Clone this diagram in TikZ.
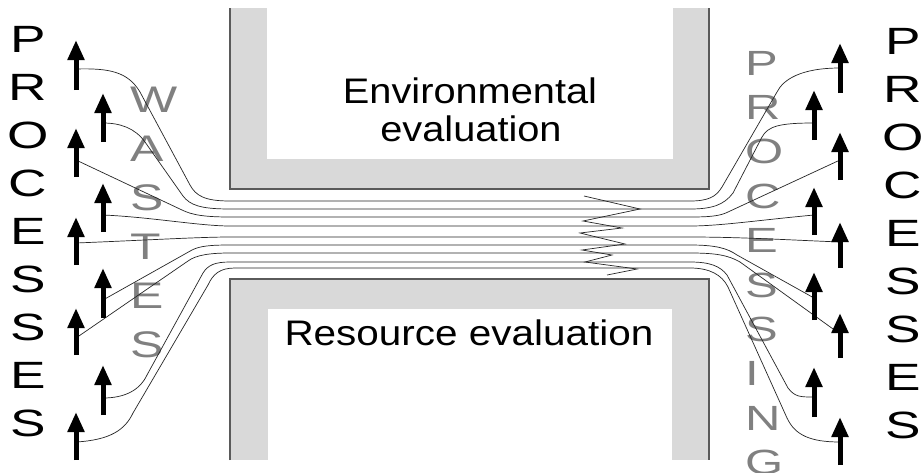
\documentclass[tikz,border=0pt]{standalone}
\usepackage{fontspec}
\setmainfont{Liberation Sans}
\usetikzlibrary{arrows.meta}
\definecolor{wallgray}{HTML}{D9D9D9}
\definecolor{walledge}{HTML}{5A5A5A}
\definecolor{lettergray}{HTML}{808080}
\newcommand{\widen}[2]{\scalebox{#1}[1]{#2}}

\begin{document}
\begin{tikzpicture}[x=1pt,y=-1pt,
  flow/.style={line width=0.7pt, draw=black!85},
  uparrow/.style={line width=5pt, -{Triangle[width=16pt,length=20pt]}},
  sideletter/.style={font=\fontsize{38}{40}\selectfont, text=black, inner sep=0pt, anchor=base},
  grayletter/.style={font=\fontsize{37}{40}\selectfont, text=lettergray, inner sep=0pt, anchor=base west},
  grayletterb/.style={font=\fontsize{35}{38}\selectfont, text=lettergray, inner sep=0pt, anchor=base west},
  walltext/.style={font=\fontsize{35.5}{40}\selectfont, text=black, inner sep=0pt, anchor=base},
  walledge/.style={line width=1.2pt, draw=walledge}
]
\useasboundingbox (0,0) rectangle (921,472);
\fill[white] (0,0) rectangle (921,472);

% upper wall: environmental evaluation
\fill[wallgray] (230,8) rectangle (709,189);
\fill[white] (267,8) rectangle (673,159);
\draw[walledge] (230,8) -- (230,189) -- (709,189) -- (709,8);

% lower wall: resource evaluation
\fill[wallgray] (230,279) rectangle (709,460);
\fill[white] (268,309) rectangle (672,460);
\draw[walledge] (230,460) -- (230,279) -- (709,279) -- (709,460);

% grey column words
\foreach \c [count=\i from 0] in {W,A,S,T,E,S}
  \node[grayletter] (waste\i) at (130,112+49*\i) {\widen{1.35}{\c}};
\foreach \c [count=\i from 0] in {P,R,O,C,E,S,S,I,N,G}
  \node[grayletterb] (proc\i) at (745,75+44.4*\i) {\widen{1.4}{\c}};

% attachment points of the flow lines
\coordinate (l1) at (76,69);   \coordinate (r1) at (840,68);
\coordinate (l2) at (103,123); \coordinate (r2) at (814,123);
\coordinate (l3) at (76,160);  \coordinate (r3) at (840,160);
\coordinate (l4) at (103,215); \coordinate (r4) at (814,215);
\coordinate (l5) at (76,243);  \coordinate (r5) at (840,242);
\coordinate (l6) at (103,300); \coordinate (r6) at (814,298);
\coordinate (l7) at (76,338);  \coordinate (r7) at (840,334);
\coordinate (l8) at (103,398); \coordinate (r8) at (814,397);
\coordinate (l9) at (76,442);  \coordinate (r9) at (840,442);

% flow lines through the channel
\draw[flow] (l1) .. controls (110,68) and (128,72) .. (140,92) -- (190,185)
  .. controls (196,196) and (205,201) .. (230,201) -- (690,201)
  .. controls (708,201) and (716,197) .. (722,187) -- (777,92)
  .. controls (783,80) and (800,68) .. (r1);
\draw[flow] (l2) .. controls (120,123) and (135,128) .. (145,142) -- (183,196)
  .. controls (190,205) and (200,209) .. (230,209) -- (690,209)
  .. controls (712,209) and (724,205) .. (733,193) -- (762,137)
  .. controls (768,126) and (780,123) .. (r2);
\draw[flow] (l3) -- (182,210)
  .. controls (192,215) and (205,217) .. (230,217) -- (690,217)
  .. controls (710,217) and (720,216) .. (728,212) -- (r3);
\draw[flow] (l4) .. controls (150,217) and (200,226) .. (230,226) -- (690,226)
  .. controls (720,226) and (760,220) .. (r4);
\draw[flow] (l5) .. controls (150,240) and (200,237) .. (230,237) -- (690,237)
  .. controls (740,237) and (790,240) .. (r5);
\draw[flow] (l6) -- (192,250)
  .. controls (200,246) and (210,245) .. (230,245) -- (690,245)
  .. controls (715,245) and (727,248) .. (737,255) -- (r6);
\draw[flow] (l7) -- (188,261)
  .. controls (196,255) and (210,253) .. (230,253) -- (690,253)
  .. controls (715,253) and (728,255) .. (740,262) -- (r7);
\draw[flow] (l8) .. controls (125,398) and (140,390) .. (147,375) -- (203,273)
  .. controls (208,265) and (215,262) .. (230,262) -- (690,262)
  .. controls (710,262) and (720,266) .. (727,275) -- (788,388)
  .. controls (795,397) and (800,397) .. (r8);
\draw[flow] (l9) .. controls (110,440) and (125,430) .. (133,413) -- (208,285)
  .. controls (213,274) and (220,268) .. (235,268) -- (690,268)
  .. controls (710,268) and (722,275) .. (728,287) -- (787,418)
  .. controls (795,435) and (810,442) .. (r9);

% zigzag where the streams are processed
\draw[flow] (584,196) -- (640,209) -- (583,221) -- (622,228) -- (580,233)
  -- (625,244) -- (582,250) -- (612,255) -- (585,262) -- (637,269) -- (607,275);

% process arrows, left
\foreach \x/\b/\t [count=\i] in {76/90/40, 103/142/93, 76/177/128, 103/232/183, 76/265/217,
                                 103/318/268, 76/355/308, 103/415/365, 76/460/412} {
  \coordinate (lb\i) at (\x,\b);
  \coordinate (lt\i) at (\x,\t);
  \draw[uparrow] (lb\i) -- (lt\i);
}
% process arrows, right
\foreach \x/\b/\t [count=\i] in {840/93/43, 814/140/90, 840/180/132, 814/235/187, 840/268/222,
                                 814/320/272, 840/358/313, 814/417/367, 840/465/417} {
  \coordinate (rb\i) at (\x,\b);
  \coordinate (rt\i) at (\x,\t);
  \draw[uparrow] (rb\i) -- (rt\i);
}

% black column words
\foreach \c [count=\i from 0] in {P,R,O,C,E,S,S,E,S} {
  \node[sideletter] (lp\i) at (28,52+48*\i) {\widen{1.4}{\c}};
  \node[sideletter] (rp\i) at (903,54+48*\i) {\widen{1.4}{\c}};
}

% wall labels
\node[walltext] (env1) at (470,103) {\widen{1.12}{Environmental}};
\node[walltext] (env2) at (471,141) {\widen{1.12}{evaluation}};
\node[walltext] (res) at (469,345) {\widen{1.14}{Resource evaluation}};
\end{tikzpicture}
\end{document}
